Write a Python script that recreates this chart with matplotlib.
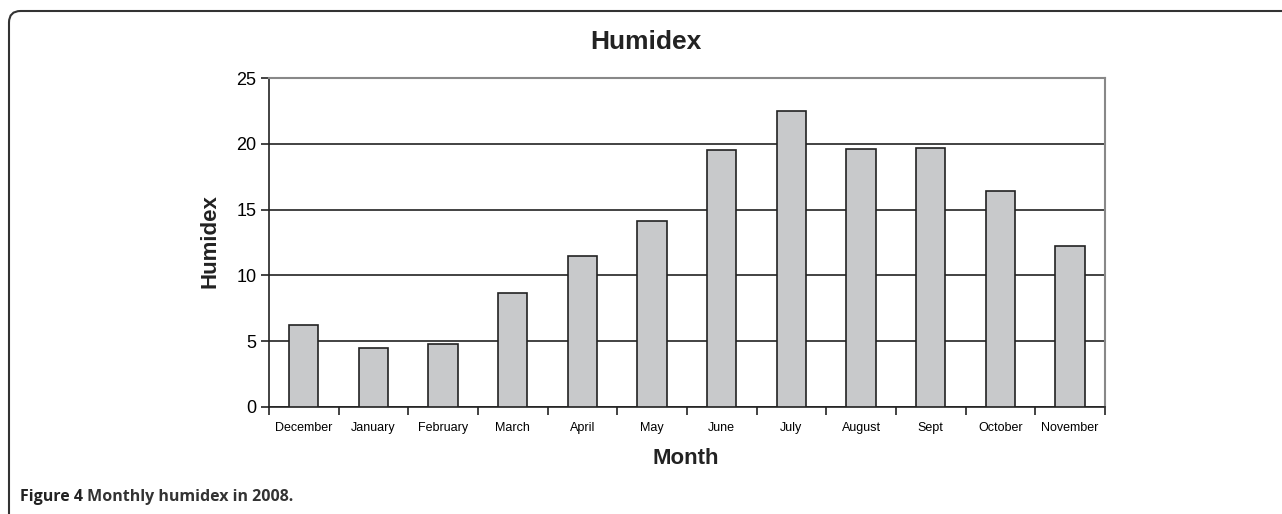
import numpy as np
import matplotlib
matplotlib.use("Agg")
import matplotlib.pyplot as plt
from matplotlib.patches import FancyBboxPatch

months = ["December", "January", "February", "March", "April", "May",
          "June", "July", "August", "Sept", "October", "November"]
humidex = [6.2, 4.5, 4.8, 8.7, 11.5, 14.1, 19.5, 22.5, 19.6, 19.7, 16.4, 12.2]
y_ticks = [0, 5, 10, 15, 20, 25]

plt.rcParams["font.family"] = ["Liberation Sans", "DejaVu Sans"]

fig = plt.figure(figsize=(12.82, 5.14), dpi=100)
ax = fig.add_axes([0.2098, 0.2082, 0.6521, 0.64])

pos = np.arange(len(months)) + 0.5
ax.bar(pos, humidex, width=0.42, color="#c8c9cb", edgecolor="#222222",
       linewidth=1.2, zorder=3)

ax.set_xlim(0, len(months))
ax.set_ylim(0, 25)
ax.set_yticks(y_ticks)
ax.tick_params(axis="y", labelsize=13, length=6, width=1.2, color="#222222", pad=3)
ax.yaxis.grid(True, color="#222222", linewidth=1.2, zorder=1)

# major ticks at category boundaries, labels at centers
ax.set_xticks(np.arange(len(months) + 1))
ax.set_xticklabels([])
ax.tick_params(axis="x", which="major", length=6, width=1.2, color="#222222")
ax.set_xticks(pos, minor=True)
ax.set_xticklabels(months, minor=True, fontsize=9)
ax.tick_params(axis="x", which="minor", length=0, pad=11)

ax.spines["left"].set_color("#222222")
ax.spines["bottom"].set_color("#222222")
ax.spines["left"].set_linewidth(1.2)
ax.spines["bottom"].set_linewidth(1.2)
ax.spines["top"].set_color("#888888")
ax.spines["right"].set_color("#888888")
ax.spines["top"].set_linewidth(1.5)
ax.spines["right"].set_linewidth(1.5)

fig.text(646 / 1282, 1 - 42 / 514, "Humidex", fontsize=19, fontweight="bold",
         ha="center", va="center", color="#222222")
fig.text(210 / 1282, 1 - 241 / 514, "Humidex", fontsize=16, fontweight="bold",
         rotation=90, ha="center", va="center", color="#222222")
fig.text(686 / 1282, 1 - 458 / 514, "Month", fontsize=16, fontweight="bold",
         ha="center", va="center", color="#222222")

# caption
cap = fig.text(20 / 1282, 1 - 497 / 514, "Figure 4", fontsize=11.5, fontweight="bold",
               family="Open Sans", ha="left", va="center", color="#222222")
ax.annotate(" Monthly humidex in 2008.", xy=(1, 0.5), xycoords=cap,
            fontsize=11.5, fontweight="bold", family="Open Sans",
            ha="left", va="center", color="#333333", annotation_clip=False)

# page frame
frame = FancyBboxPatch((9 / 1282, -0.1), 1.2, 1 - 11 / 514 + 0.1,
                       boxstyle="round,pad=0,rounding_size=0.009",
                       transform=fig.transFigure, fill=False,
                       edgecolor="#333333", linewidth=1.5, mutation_aspect=2.5)
fig.patches.append(frame)

fig.savefig("out.png", dpi=100)
